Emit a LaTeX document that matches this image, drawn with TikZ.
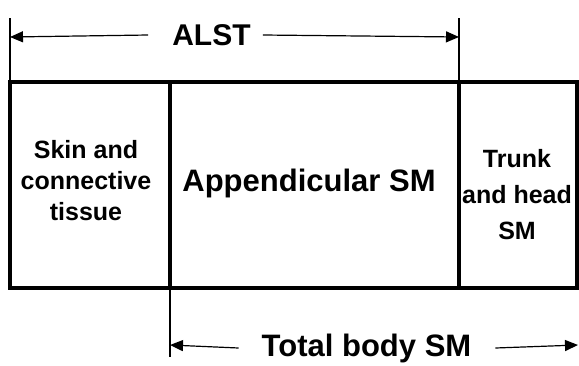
\documentclass[tikz,border=0pt]{standalone}
\usepackage{fontspec}
\setmainfont{Liberation Sans}
\usepackage{tikz}
\usetikzlibrary{positioning,arrows.meta}
\tikzset{
  part/.style={draw, line width=4pt, minimum height=206pt, inner sep=0pt, outer sep=0pt},
  boxtext/.style={align=center, inner sep=0pt, font=\bfseries\fontsize{25}{31}\selectfont},
  bigtext/.style={inner sep=0pt, font=\bfseries\fontsize{31}{37}\selectfont},
  dimtext/.style={inner sep=0pt, font=\bfseries\fontsize{30}{36}\selectfont},
  dim/.style={line width=1.2pt, -{Triangle[length=13pt,width=11pt]}},
  tick/.style={line width=1.4pt}
}

\begin{document}
\begin{tikzpicture}[x=1pt,y=-1pt]
  \useasboundingbox (0,0) rectangle (579,365);
  % Compartments
  \node[part, minimum width=160pt] (skin) at (90,185) {};
  \node[part, minimum width=289pt, right=0pt of skin] (app) {};
  \node[part, minimum width=118pt, right=0pt of app] (trunk) {};
  \node[boxtext] (skinlbl) at (86,181) {Skin and\\connective\\tissue};
  \node[bigtext] (applbl) at (309,183) {Appendicular SM};
  \node[boxtext] (trunklbl) at (517,195) {Trunk\\[5pt]and head\\[5pt]SM};

  % ALST
  \coordinate (toprow) at (0,37);
  \coordinate (alstL) at (skin.north west |- toprow);
  \coordinate (alstR) at (app.north east |- toprow);
  \draw[tick] (skin.north west) -- ++(0,-64);
  \draw[tick] (app.north east) -- ++(0,-64);
  \node[dimtext] (alst) at (211.5,35) {ALST};
  \draw[dim] ([xshift=-24pt]alst.west) -- (alstL);
  \draw[dim] ([xshift=12pt]alst.east) -- (alstR);

  % Total body SM
  \coordinate (botrow) at (0,345);
  \coordinate (totL) at (app.south west |- botrow);
  \coordinate (totR) at (578,345);
  \draw[tick] (app.south west) -- ++(0,69);
  \node[dimtext, font=\bfseries\fontsize{31}{37}\selectfont] (total) at (366.5,348) {Total body SM};
  \draw[dim] ([xshift=-23pt]total.west) -- (totL);
  \draw[dim] ([xshift=24pt]total.east) -- (totR);
\end{tikzpicture}
\end{document}
